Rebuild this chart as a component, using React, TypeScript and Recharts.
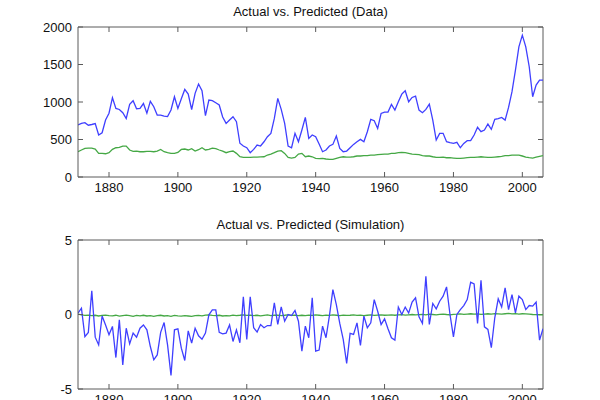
import { LineChart, Line, XAxis, YAxis, ReferenceLine } from "recharts";

// annual values, first year 1871
const START_YEAR = 1871;
const END_YEAR = 2006;

const actualData = [
  693, 715, 724, 690, 700, 712, 560, 590, 760, 850,
  1057, 915, 900, 857, 780, 970, 1017, 910, 915, 980,
  850, 1008, 937, 826, 826, 813, 805, 893, 1070, 915,
  1044, 1168, 1105, 900, 1115, 1240, 1150, 817, 1026, 1017,
  990, 960, 800, 715, 760, 804, 737, 450, 413, 390,
  324, 368, 426, 413, 470, 537, 582, 781, 1048, 901,
  715, 413, 390, 582, 470, 626, 795, 515, 560, 537,
  440, 337, 360, 413, 435, 546, 382, 337, 346, 390,
  435, 470, 502, 470, 604, 768, 750, 648, 848, 866,
  866, 968, 892, 1003, 1105, 1150, 1003, 1061, 1079, 892,
  857, 901, 972, 759, 493, 582, 582, 470, 457, 448,
  462, 390, 448, 484, 484, 560, 662, 604, 626, 706,
  635, 768, 777, 795, 759, 928, 1137, 1425, 1736, 1891,
  1736, 1470, 1070, 1225, 1292, 1292,
];

const predictedData = [
  337, 360, 382, 386, 386, 373, 315, 315, 310, 324,
  368, 390, 395, 413, 413, 360, 342, 346, 337, 337,
  342, 342, 337, 346, 368, 337, 324, 315, 315, 328,
  368, 373, 360, 377, 346, 364, 390, 360, 368, 386,
  377, 360, 346, 324, 337, 346, 315, 270, 262, 262,
  262, 265, 266, 268, 270, 293, 306, 324, 346, 351,
  315, 262, 253, 262, 306, 315, 270, 280, 270, 249,
  244, 249, 240, 235, 235, 249, 262, 270, 266, 266,
  270, 280, 280, 284, 284, 293, 293, 297, 302, 306,
  306, 315, 315, 324, 328, 324, 315, 306, 302, 297,
  284, 280, 280, 270, 262, 262, 266, 257, 257, 253,
  249, 249, 253, 257, 262, 262, 266, 270, 266, 262,
  262, 266, 270, 275, 284, 284, 293, 293, 293, 280,
  266, 257, 253, 266, 275, 284,
];

const actualSim = [
  0.1, 0.42, -1.48, -1.2, 1.59, -1.52, -2.04, -0.1, -0.7, -1.36,
  -0.8, -2.89, -0.36, -3.38, -0.92, -1.97, -1.25, -1.52, -0.92, -0.7,
  -1.03, -2.15, -3.04, -2.71, -1.2, -0.54, -2.04, -4.09, -1.03, -0.96,
  -2.26, -3.09, -1.1, -1.92, -0.92, -1.43, -1.66, -1.25, -0.02, 0.31,
  0.31, -1.2, -1.3, -1.25, -0.7, -1.81, -1.03, -1.9, 1.18, -1.67,
  1.18, -0.89, -1.18, -0.67, -0.89, -0.74, -0.74, 0.78, -0.67, 0.51,
  -0.45, 0, -0.07, 0.27, -0.45, -2.46, -0.78, -1.56, 1.12, -2.46,
  -2.39, -0.78, -1.56, -0.07, 1.67, 0.67, -0.6, -1.67, -3.28, -1.27,
  -1.34, -0.56, -2.08, -0.11, -0.89, -0.56, 1.0, 0.22, -0.67, -0.29,
  -0.96, -1.56, -1.72, 0.5, 0.0, 0.5, 0.1, 0.83, 1.12, -0.16,
  -0.6, 2.57, -0.67, 0.74, 0.38, 0.89, 1.23, 1.85, 0, -1.5,
  0, 0.33, 0.6, 1.0, 2.17, 2.05, -0.6, 2.3, -0.83, -1.0,
  -2.23, -0.22, 1.05, 0.51, 1.79, 0.33, 1.34, 0.11, 1.23, 1.0,
  0.33, 0.6, 0.56, 0.83, -1.72, -0.96,
];

const predictedSim = [
  0.02, -0.03, -0.06, -0.04, -0.08, -0.05, -0.1, -0.06, -0.04, -0.07,
  -0.09, -0.05, -0.11, -0.07, -0.04, -0.08, -0.12, -0.06, -0.09, -0.05,
  -0.1, -0.07, -0.13, -0.08, -0.05, -0.1, -0.08, -0.12, -0.06, -0.09,
  -0.11, -0.07, -0.1, -0.13, -0.08, -0.06, -0.09, -0.04, -0.03, -0.06,
  -0.08, -0.05, -0.1, -0.07, -0.09, -0.04, -0.07, -0.05, -0.02, -0.06,
  -0.04, -0.07, -0.05, -0.09, -0.06, -0.03, -0.08, -0.05, -0.04, -0.07,
  -0.05, -0.02, -0.06, -0.04, -0.07, -0.05, -0.08, -0.04, -0.06, -0.03,
  -0.05, -0.07, -0.04, -0.06, -0.03, -0.05, -0.07, -0.04, -0.06, -0.05,
  -0.03, -0.06, -0.04, -0.07, -0.05, -0.03, -0.06, -0.04, -0.02, -0.05,
  -0.04, -0.02, -0.05, -0.03, -0.01, -0.04, -0.02, 0.0, -0.03, -0.01,
  0.01, -0.02, 0.02, 0.0, -0.03, 0.01, 0.03, 0.0, -0.02, 0.01,
  0.02, 0.04, 0.01, 0.03, 0.05, 0.02, 0.04, 0.01, 0.03, 0.05,
  0.03, 0.06, 0.04, 0.02, 0.05, 0.07, 0.04, 0.06, 0.03, 0.05,
  0.04, 0.02, 0.0, -0.01, -0.03, -0.02,
];

const yearTicks = [1880, 1900, 1920, 1940, 1960, 1980, 2000];
const dataTicks = [0, 500, 1000, 1500, 2000];
const simTicks = [-5, 0, 5];

const dataRows = actualData.map((v, i) => ({
  year: START_YEAR + i,
  actual: v,
  predicted: predictedData[i],
}));
const simRows = actualSim.map((v, i) => ({
  year: START_YEAR + i,
  actual: v,
  predicted: predictedSim[i],
}));

const AXIS = "#5a5a5a";
const BLUE = "#3f3fff";
const GREEN = "#45a845";
const FONT = "Liberation Sans, Arial, sans-serif";
const TICK_LEN = 5;
const GAP = 6;
const PLOT_W = 465;
const PLOT_H = 150;

// labels outside, tick marks pointing into the plot (matlab style)
const BottomTick = ({ x, y, payload }: any) => (
  <g>
    <line x1={x} y1={y - GAP} x2={x} y2={y - GAP - TICK_LEN} stroke={AXIS} />
    <text x={x} y={y} dy="0.71em" textAnchor="middle" fontSize={13} fontFamily={FONT} fill="#111">
      {payload.value}
    </text>
  </g>
);

const LeftTick = ({ x, y, payload }: any) => (
  <g>
    <line x1={x + GAP} y1={y} x2={x + GAP + TICK_LEN} y2={y} stroke={AXIS} />
    <text x={x} y={y} dy="0.355em" textAnchor="end" fontSize={13} fontFamily={FONT} fill="#111">
      {payload.value}
    </text>
  </g>
);

function Panel({ rows, ticks, domain, top, height, marginTop, xHeight, title }: any) {
  const [lo, hi] = domain;
  // tick length expressed in data units so the box ticks go through the scales
  const yTick = (TICK_LEN * (hi - lo)) / PLOT_H;
  const xTick = (TICK_LEN * (END_YEAR - START_YEAR)) / PLOT_W;
  return (
    <div style={{ position: "absolute", left: 0, top, width: 600, height }}>
      <div
        style={{
          position: "absolute",
          left: 78,
          width: PLOT_W,
          top: marginTop - 23,
          textAlign: "center",
          fontFamily: FONT,
          fontSize: 13,
          color: "#111",
        }}
      >
        {title}
      </div>
      <LineChart width={600} height={height} data={rows} margin={{ top: marginTop, right: 57, bottom: 0, left: 0 }}>
        <XAxis
          dataKey="year"
          type="number"
          domain={[START_YEAR, END_YEAR]}
          ticks={yearTicks}
          allowDataOverflow
          height={xHeight}
          tickSize={0}
          tickMargin={GAP}
          tickLine={false}
          stroke={AXIS}
          tick={<BottomTick />}
        />
        <YAxis
          type="number"
          domain={domain}
          ticks={ticks}
          allowDataOverflow
          width={78}
          tickSize={0}
          tickMargin={GAP}
          tickLine={false}
          stroke={AXIS}
          tick={<LeftTick />}
        />
        {/* close the box: top and right edges with inward ticks */}
        <ReferenceLine y={hi} stroke={AXIS} ifOverflow="visible" />
        <ReferenceLine x={END_YEAR} stroke={AXIS} ifOverflow="visible" />
        {yearTicks.map((t) => (
          <ReferenceLine
            key={`tx${t}`}
            segment={[
              { x: t, y: hi },
              { x: t, y: hi - yTick },
            ]}
            stroke={AXIS}
            ifOverflow="visible"
          />
        ))}
        {ticks.map((t: number) => (
          <ReferenceLine
            key={`ty${t}`}
            segment={[
              { x: END_YEAR, y: t },
              { x: END_YEAR - xTick, y: t },
            ]}
            stroke={AXIS}
            ifOverflow="visible"
          />
        ))}
        <Line type="linear" dataKey="predicted" stroke={GREEN} strokeWidth={1.3} dot={false} isAnimationActive={false} />
        <Line type="linear" dataKey="actual" stroke={BLUE} strokeWidth={1.3} dot={false} isAnimationActive={false} />
      </LineChart>
    </div>
  );
}

export default function App() {
  return (
    <div style={{ position: "absolute", left: 0, top: 0, width: 600, height: 400, background: "#fff", overflow: "hidden" }}>
      <Panel
        rows={dataRows}
        ticks={dataTicks}
        domain={[0, 2000]}
        top={0}
        height={200}
        marginTop={27}
        xHeight={23}
        title="Actual vs. Predicted (Data)"
      />
      <Panel
        rows={simRows}
        ticks={simTicks}
        domain={[-5, 5]}
        top={200}
        height={220}
        marginTop={40}
        xHeight={31}
        title="Actual vs. Predicted (Simulation)"
      />
    </div>
  );
}
